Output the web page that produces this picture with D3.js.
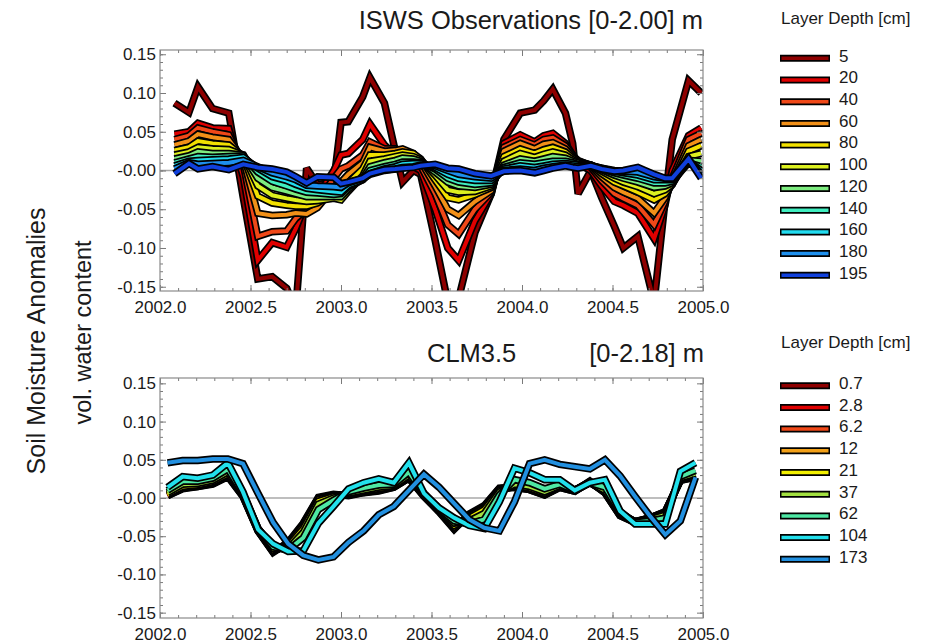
<!DOCTYPE html>
<html>
<head>
<meta charset="utf-8">
<title>Soil Moisture Anomalies: ISWS vs CLM3.5</title>
<style>
body { margin: 0; background: #fff; }
text { font-family: "Liberation Sans", Arial, Helvetica, sans-serif; fill: #1a1a1a; }
</style>
</head>
<body>
<svg width="929" height="643"></svg>
<script src="https://d3js.org/d3.v7.min.js"></script>
<script>
// ---- ISWS observations (top panel), sampling dates in decimal years
var obsTime = [2002.08, 2002.16, 2002.21, 2002.29, 2002.38, 2002.46, 2002.54, 2002.62, 2002.70, 2002.75,
               2002.81, 2002.87, 2002.96, 2003.00, 2003.04, 2003.12, 2003.16, 2003.24, 2003.30, 2003.34,
               2003.40, 2003.44, 2003.52, 2003.59, 2003.65, 2003.74, 2003.83, 2003.90, 2003.99, 2004.07,
               2004.12, 2004.17, 2004.24, 2004.28, 2004.31, 2004.38, 2004.44, 2004.51, 2004.56, 2004.64,
               2004.73, 2004.79, 2004.83, 2004.92, 2004.99];
var obsDepths = ["5", "20", "40", "60", "80", "100", "120", "140", "160", "180", "195"];
var obsColors = ["#8e0000", "#e00000", "#f04818", "#f29018", "#f2e000", "#dcf020",
                 "#7eec80", "#40eec0", "#22dcf0", "#1e90ee", "#1040dc"];

var obs5   = [.087,.075,.108,.080,.074,-.035,-.140,-.137,-.152,-.180,.003,-.018,-.015,.062,.063,.095,.120,.087,.025,-.015,.000,-.005,-.090,-.170,-.165,-.080,-.030,.040,.074,.078,.090,.105,.074,.035,-.030,.000,-.035,-.072,-.100,-.085,-.170,-.040,.040,.116,.100];
var obs20  = [.047,.050,.061,.055,.054,-.008,-.116,-.093,-.099,-.075,-.040,-.033,.000,.020,.022,.040,.060,.033,.020,.010,.005,.000,-.050,-.100,-.116,-.065,-.030,.035,.046,.037,.045,.048,.035,.020,.008,.000,-.020,-.040,-.045,-.055,-.088,-.045,.000,.045,.055];
var obs40  = [.040,.045,.055,.050,.046,.008,-.085,-.079,-.078,-.062,-.050,-.040,-.010,.002,.006,.020,.037,.028,.028,.025,.018,.006,-.030,-.070,-.082,-.050,-.028,.030,.040,.033,.040,.042,.032,.020,.012,.004,-.013,-.030,-.036,-.045,-.070,-.040,-.010,.040,.048];
var obs60  = [.033,.038,.047,.043,.040,.014,-.055,-.058,-.057,-.055,-.056,-.048,-.022,-.015,-.005,.010,.030,.025,.026,.028,.022,.012,-.020,-.050,-.058,-.040,-.026,.025,.035,.028,.034,.036,.028,.018,.013,.006,-.008,-.022,-.028,-.036,-.055,-.035,-.015,.032,.040];
var obs80  = [.026,.030,.038,.035,.033,.018,-.033,-.042,-.045,-.046,-.046,-.042,-.030,-.026,-.016,.002,.020,.020,.022,.024,.022,.015,-.012,-.035,-.038,-.031,-.022,.018,.028,.022,.027,.030,.024,.016,.012,.007,-.004,-.015,-.020,-.028,-.038,-.030,-.018,.025,.032];
var obs100 = [.020,.024,.030,.028,.027,.020,-.020,-.032,-.036,-.038,-.040,-.039,-.036,-.038,-.027,-.007,.012,.015,.018,.020,.018,.014,-.006,-.025,-.028,-.027,-.020,.012,.022,.017,.021,.024,.020,.014,.011,.007,-.001,-.010,-.015,-.021,-.030,-.025,-.018,.018,.022];
var obs120 = [.015,.019,.024,.022,.022,.020,-.010,-.022,-.027,-.030,-.034,-.034,-.034,-.034,-.024,-.010,.005,.010,.013,.016,.015,.012,-.002,-.015,-.020,-.022,-.018,.007,.015,.012,.015,.018,.016,.012,.010,.007,.001,-.006,-.010,-.015,-.022,-.020,-.016,.013,.012];
var obs140 = [.010,.015,.018,.017,.018,.019,-.002,-.014,-.020,-.024,-.028,-.029,-.031,-.030,-.021,-.012,.000,.005,.008,.011,.011,.010,.002,-.010,-.015,-.018,-.016,.004,.010,.008,.010,.012,.012,.010,.008,.007,.002,-.003,-.006,-.010,-.016,-.016,-.014,.010,.005];
var obs160 = [.006,.012,.013,.014,.015,.017,.003,-.008,-.013,-.018,-.023,-.025,-.027,-.028,-.019,-.012,-.004,.002,.005,.008,.009,.009,.004,-.005,-.010,-.013,-.013,.002,.006,.004,.006,.008,.009,.008,.007,.006,.003,-.001,-.003,-.006,-.012,-.012,-.012,.012,.000];
var obs180 = [.002,.010,.008,.009,.010,.013,.005,-.003,-.008,-.012,-.019,-.020,-.021,-.022,-.016,-.010,-.005,.000,.002,.004,.005,.007,.006,.000,-.005,-.008,-.010,.000,.002,.000,.003,.005,.007,.006,.005,.006,.003,.000,-.001,-.002,-.008,-.010,-.011,.014,-.005];
var obs195 = [-.004,.009,.002,.005,.001,.008,.004,.002,-.002,-.008,-.016,-.008,-.009,-.017,-.015,-.010,-.004,.001,.002,.003,.004,.006,.008,.003,.002,-.004,-.007,-.001,.000,-.003,.000,.003,.006,.004,.003,.006,.002,-.001,.000,.004,-.005,-.010,-.010,.015,-.010];
var obsSeries = [obs5, obs20, obs40, obs60, obs80, obs100, obs120, obs140, obs160, obs180, obs195];

// ---- CLM3.5 (bottom panel), monthly means, Jan 2002 .. Dec 2004
var clmTime = d3.range(36).map(function(i) { return 2002 + (i + 0.5) / 12; });
var clmDepths = ["0.7", "2.8", "6.2", "12", "21", "37", "62", "104", "173"];
var clmColors = ["#8e0000", "#e00000", "#f04818", "#f2a018", "#f2f000", "#a2e040",
                 "#4ee8a4", "#22e0ec", "#2290e0"];

var clm07  = [.003,.012,.015,.018,.028,.002,-.043,-.071,-.058,-.033,.001,.005,.003,.007,.009,.014,.026,.002,-.018,-.041,-.021,-.010,.013,.014,.011,.004,.014,.009,.022,.007,-.023,-.032,-.026,-.018,.023,.027];
var clm28  = [.003,.013,.015,.019,.029,.003,-.043,-.070,-.059,-.034,.000,.004,.004,.007,.010,.014,.026,.003,-.017,-.040,-.022,-.011,.012,.014,.011,.004,.014,.009,.021,.007,-.023,-.032,-.026,-.018,.023,.028];
var clm62  = [.004,.013,.016,.019,.029,.003,-.042,-.070,-.060,-.035,-.001,.004,.004,.008,.010,.015,.027,.003,-.017,-.039,-.023,-.012,.012,.015,.012,.005,.015,.010,.021,.008,-.022,-.031,-.026,-.019,.024,.028];
var clm12  = [.004,.014,.016,.020,.030,.004,-.042,-.069,-.061,-.037,-.002,.003,.004,.008,.011,.015,.027,.004,-.016,-.038,-.024,-.013,.011,.015,.012,.005,.015,.010,.021,.008,-.022,-.031,-.026,-.019,.024,.029];
var clm21  = [.005,.015,.017,.021,.031,.004,-.041,-.068,-.063,-.040,-.004,.002,.005,.009,.012,.015,.028,.004,-.016,-.036,-.026,-.015,.010,.016,.013,.006,.015,.010,.020,.009,-.021,-.031,-.027,-.020,.025,.030];
var clm37  = [.007,.018,.019,.023,.034,.005,-.040,-.066,-.066,-.045,-.008,.000,.006,.010,.014,.016,.030,.005,-.015,-.033,-.030,-.020,.008,.018,.015,.008,.016,.010,.020,.010,-.020,-.031,-.028,-.022,.026,.032];
var clm62b = [.010,.022,.022,.026,.038,.006,-.040,-.064,-.068,-.052,-.015,-.003,.008,.013,.017,.018,.034,.006,-.014,-.030,-.034,-.028,.004,.024,.020,.012,.018,.010,.020,.014,-.018,-.032,-.030,-.026,.028,.036];
var clm104 = [.014,.028,.026,.030,.046,.008,-.041,-.060,-.070,-.069,-.033,-.011,.012,.020,.025,.020,.046,.006,-.013,-.026,-.036,-.040,-.005,.039,.033,.024,.024,.010,.020,.024,-.017,-.034,-.034,-.034,.035,.046];
var clm173 = [.046,.049,.049,.051,.051,.045,.006,-.032,-.060,-.075,-.081,-.077,-.058,-.043,-.022,-.011,.010,.031,.014,-.007,-.028,-.039,-.043,-.005,.045,.050,.044,.041,.038,.050,.029,.002,-.024,-.048,-.030,.027];
var clmSeries = [clm07, clm28, clm62, clm12, clm21, clm37, clm62b, clm104, clm173];

// ---- axis ticks
var xMajor = [2002, 2002.5, 2003, 2003.5, 2004, 2004.5, 2005];
var xTickLabels = ["2002.0", "2002.5", "2003.0", "2003.5", "2004.0", "2004.5", "2005.0"];
var xMinor = d3.range(2002, 2005.0001, 0.1);
var yMajor = [-0.15, -0.10, -0.05, 0, 0.05, 0.10, 0.15];
var yTickLabels = ["-0.15", "-0.10", "-0.05", "-0.00", "0.05", "0.10", "0.15"];
var yMinor = d3.range(-15, 16).map(function(d) { return d / 100; });

var svg = d3.select("svg");

var x = d3.scaleLinear().domain([2002, 2005]).range([160, 703]);

function panel(opt) {
  var y = d3.scaleLinear().domain(opt.yDomain).range([opt.bottom, opt.top]);
  var g = svg.append("g");

  g.append("clipPath").attr("id", opt.id)
    .append("rect")
      .attr("x", x.range()[0]).attr("y", opt.top)
      .attr("width", x.range()[1] - x.range()[0])
      .attr("height", opt.bottom - opt.top);

  // zero line
  g.append("line")
      .attr("x1", x.range()[0]).attr("x2", x.range()[1])
      .attr("y1", y(0)).attr("y2", y(0))
      .attr("stroke", "#a8a8a8").attr("stroke-width", 1.6);

  var line = d3.line()
      .defined(function(d) { return d[1] != null; })
      .x(function(d) { return x(d[0]); })
      .y(function(d) { return y(d[1]); });

  var lines = g.append("g").attr("clip-path", "url(#" + opt.id + ")");
  opt.series.forEach(function(s, i) {
    var pts = opt.time.map(function(t, j) { return [t, s[j]]; });
    lines.append("path")
        .attr("d", line(pts))
        .attr("fill", "none")
        .attr("stroke", "#000")
        .attr("stroke-width", 7.5)
        .attr("stroke-linejoin", "miter")
        .attr("stroke-miterlimit", 3);
    lines.append("path")
        .attr("d", line(pts))
        .attr("fill", "none")
        .attr("stroke", opt.colors[i])
        .attr("stroke-width", 4)
        .attr("stroke-linejoin", "miter")
        .attr("stroke-miterlimit", 3);
  });

  // axes, IDL style: inward ticks on all four sides
  function ax(a, tx, ty, vals, size, fmt) {
    var sel = g.append("g")
        .attr("transform", "translate(" + tx + "," + ty + ")")
        .call(a.tickValues(vals).tickSize(size).tickSizeOuter(0).tickFormat(fmt));
    sel.select(".domain").remove();
    sel.selectAll(".tick line").attr("stroke", "#7a7a7a").attr("stroke-width", 1);
    return sel;
  }
  var none = function() { return ""; };

  ax(d3.axisBottom(x), 0, opt.bottom, xMinor, -3, none);
  ax(d3.axisTop(x), 0, opt.top, xMinor, -3, none);
  ax(d3.axisTop(x), 0, opt.top, xMajor, -6, none);
  var xb = ax(d3.axisBottom(x).tickPadding(10), 0, opt.bottom, xMajor, -6,
      function(d, i) { return xTickLabels[i]; });
  xb.selectAll("text").attr("font-size", 17).attr("fill", "#1a1a1a")
    .attr("font-family", "Liberation Sans, Arial, sans-serif");

  ax(d3.axisLeft(y), x.range()[0], 0, yMinor, -3, none);
  ax(d3.axisRight(y), x.range()[1], 0, yMinor, -3, none);
  ax(d3.axisRight(y), x.range()[1], 0, yMajor, -6, none);
  var yl = ax(d3.axisLeft(y).tickPadding(4), x.range()[0], 0, yMajor, -6,
      function(d, i) { return yTickLabels[i]; });
  yl.selectAll("text").attr("font-size", 17).attr("fill", "#1a1a1a")
    .attr("font-family", "Liberation Sans, Arial, sans-serif");

  g.append("rect")
      .attr("x", x.range()[0]).attr("y", opt.top)
      .attr("width", x.range()[1] - x.range()[0])
      .attr("height", opt.bottom - opt.top)
      .attr("fill", "none")
      .attr("stroke", "#8a8a8a")
      .attr("stroke-width", 1.2);

  // legend
  var lg = svg.append("g");
  lg.append("text")
      .attr("x", 781).attr("y", opt.legendTop)
      .attr("font-size", 17)
      .text("Layer Depth [cm]");
  opt.labels.forEach(function(lab, i) {
    var ly = opt.legendFirst + i * 21.7;
    lg.append("line").attr("x1", 780).attr("x2", 830).attr("y1", ly).attr("y2", ly)
        .attr("stroke", "#000").attr("stroke-width", 7);
    lg.append("line").attr("x1", 781.5).attr("x2", 828.5).attr("y1", ly).attr("y2", ly)
        .attr("stroke", opt.colors[i]).attr("stroke-width", 3.5);
    lg.append("text")
        .attr("x", 839).attr("y", ly + 3.3)
        .attr("font-size", 17)
        .text(lab);
  });
}

panel({ id: "clipTop", top: 50, bottom: 291, yDomain: [-0.1555, 0.1555],
        time: obsTime, series: obsSeries, colors: obsColors, labels: obsDepths,
        legendTop: 24, legendFirst: 58.3 });
panel({ id: "clipBot", top: 378, bottom: 618, yDomain: [-0.157, 0.157],
        time: clmTime, series: clmSeries, colors: clmColors, labels: clmDepths,
        legendTop: 348.3, legendFirst: 385.7 });

// titles
svg.append("text")
    .attr("x", 703).attr("y", 29)
    .attr("text-anchor", "end")
    .attr("font-size", 25.5)
    .text("ISWS Observations [0-2.00] m");
svg.append("text")
    .attr("x", 427).attr("y", 362)
    .attr("font-size", 25.5)
    .text("CLM3.5");
svg.append("text")
    .attr("x", 704).attr("y", 362)
    .attr("text-anchor", "end")
    .attr("font-size", 25.5)
    .text("[0-2.18] m");

// y axis captions
svg.append("text")
    .attr("transform", "translate(45,341) rotate(-90)")
    .attr("text-anchor", "middle")
    .attr("font-size", 25)
    .text("Soil Moisture Anomalies");
svg.append("text")
    .attr("transform", "translate(91,332.5) rotate(-90)")
    .attr("text-anchor", "middle")
    .attr("font-size", 23.5)
    .text("vol. water content");
</script>
</body>
</html>
